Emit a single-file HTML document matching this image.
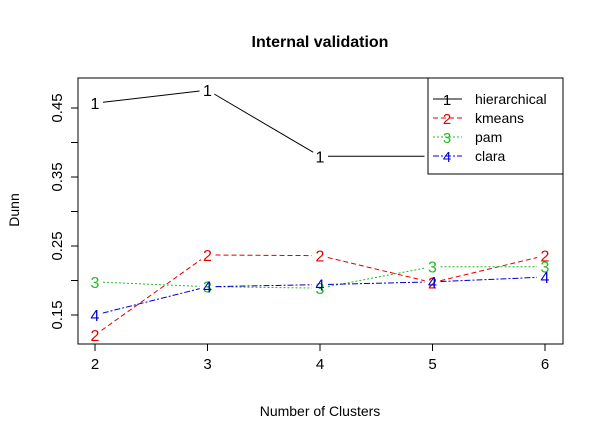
<!DOCTYPE html>
<html><head><meta charset="utf-8"><style>body{margin:0;background:#fff}svg{display:block;font-family:"Liberation Sans",Arial,sans-serif}</style></head>
<body>
<svg id="chart" width="604" height="442" viewBox="0 0 604 442" xmlns="http://www.w3.org/2000/svg">
<rect width="604" height="442" fill="#fff"/>
<text x="320" y="47" text-anchor="middle" font-size="16" font-weight="bold">Internal validation</text>
<text x="320" y="416" text-anchor="middle" font-size="14">Number of Clusters</text>
<text x="19" y="210" text-anchor="middle" font-size="14" transform="rotate(-90 19 210)">Dunn</text>
<g id="axes"></g>
<g id="series"></g>
<rect x="78" y="78" width="485" height="266" fill="none" stroke="#000"/>
<g id="legend"></g>
</svg>
<script>
const categories = [2, 3, 4, 5, 6];
const xTicks = [2, 3, 4, 5, 6];
const yTicks = [0.15, 0.20, 0.25, 0.30, 0.35, 0.40, 0.45];
const yTickLabels = ["0.15", "", "0.25", "", "0.35", "", "0.45"];
const seriesNames = ["hierarchical", "kmeans", "pam", "clara"];
const hierarchical = [0.457, 0.476, 0.380, 0.380, 0.380];
const kmeans = [0.121, 0.237, 0.236, 0.197, 0.236];
const pam = [0.198, 0.191, 0.189, 0.220, 0.220];
const clara = [0.150, 0.191, 0.194, 0.198, 0.205];

const NS = "http://www.w3.org/2000/svg";
const X = v => 95 + (v - 2) * 112.5;
const Y = v => 315 - (v - 0.15) * 690;
function mk(tag, attrs, parent) { const e = document.createElementNS(NS, tag); for (const k in attrs) e.setAttribute(k, attrs[k]); parent.appendChild(e); return e; }
const axes = document.getElementById('axes');
xTicks.forEach(t => {
  const l = mk('line', {x1: X(t), x2: X(t), y1: 344, y2: 351, stroke: '#000'}, axes);
  
  
  const tx = mk('text', {x: X(t), y: 369, 'text-anchor': 'middle', 'font-size': 15}, axes);
  tx.textContent = t;
  
  
});
yTicks.forEach((t, i) => {
  const l = mk('line', {x1: 71, x2: 78, y1: Y(t), y2: Y(t), stroke: '#000'}, axes);
  
  
  if (yTickLabels[i]) {
    const tx = mk('text', {x: 62, y: Y(t), 'text-anchor': 'middle', 'font-size': 15, transform: `rotate(-90 62 ${Y(t)})`}, axes);
    tx.textContent = yTickLabels[i];
    
    
  }
});
const colors = ['#000', '#df0000', '#22bb22', '#0000cc'];
const dashes = ['', '5,3', '2,2', '6,2,2,2'];
const data = [hierarchical, kmeans, pam, clara];
const sg = document.getElementById('series');
data.forEach((vals, s) => {
  const g = mk('g', {}, sg);
  
  
  for (let i = 0; i < vals.length - 1; i++) {
    const x1 = X(categories[i]), y1 = Y(vals[i]), x2 = X(categories[i + 1]), y2 = Y(vals[i + 1]);
    const d = Math.hypot(x2 - x1, y2 - y1), g0 = 8;
    if (d > 2 * g0) {
      const ux = (x2 - x1) / d, uy = (y2 - y1) / d;
      const l = mk('line', {x1: x1 + ux * g0, y1: y1 + uy * g0, x2: x2 - ux * g0, y2: y2 - uy * g0, stroke: colors[s], 'stroke-dasharray': dashes[s]}, g);
      
      
    }
  }
  vals.forEach((v, i) => {
    const t = mk('text', {x: X(categories[i]), y: Y(v) + 6, 'text-anchor': 'middle', 'font-size': 16, fill: colors[s]}, g);
    t.textContent = s + 1;
    
    
  });
});
const lg = document.getElementById('legend');
const box = mk('rect', {x: 428, y: 78, width: 135, height: 96, fill: '#fff', stroke: '#000'}, lg);


seriesNames.forEach((n, s) => {
  const y = 99 + s * 19;
  const g = mk('g', {}, lg);
  
  
  mk('line', {x1: 433, x2: 462, y1: y, y2: y, stroke: colors[s], 'stroke-dasharray': dashes[s]}, g);
  const k = mk('text', {x: 447, y: y + 6, 'text-anchor': 'middle', 'font-size': 15, fill: colors[s]}, g);
  k.textContent = s + 1;
  const t = mk('text', {x: 475, y: y + 5, 'font-size': 14}, g);
  t.textContent = n;
});
</script>
</body></html>
